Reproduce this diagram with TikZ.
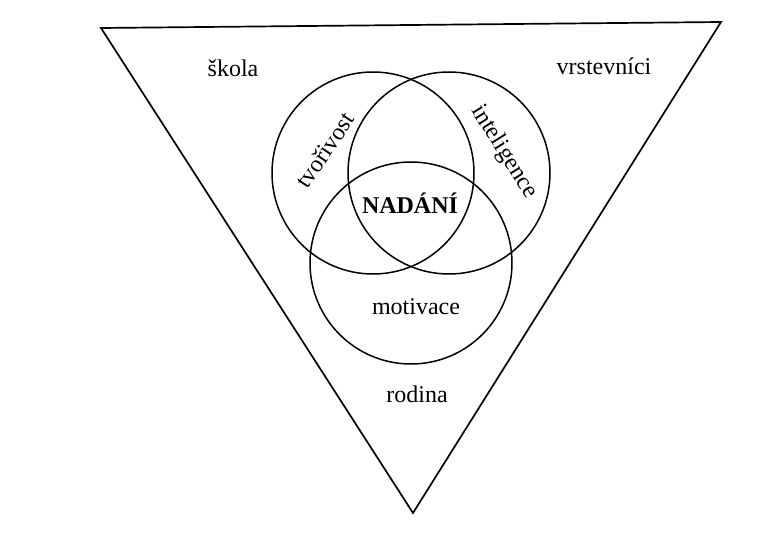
\documentclass[tikz,border=0pt]{standalone}
\usepackage{fontspec}
\setmainfont{Liberation Serif}
\usetikzlibrary{positioning}

\begin{document}
\begin{tikzpicture}[
  x=1pt,y=-1pt,
  ring/.style={draw,circle,minimum size=202pt,inner sep=0pt,line width=1.5pt},
  word/.style={font=\fontsize{24}{28}\selectfont,inner sep=0pt},
  edge/.style={line width=1.7pt,line join=miter}
]
  \useasboundingbox (0,0) rectangle (769,534);

  % triangle
  \coordinate (tl) at (101,28);
  \coordinate (tr) at (721,22);
  \coordinate (bot) at (413,513);
  \draw[edge] (tl) -- (tr) -- (bot) -- cycle;

  % the three circles
  \node[ring] (tvor) at (373,173) {};
  \node[ring] (intel) at (449,173) {};
  \node[ring] (motiv) at (411,263) {};

  % labels
  \node[word] (skola) at (233,68) {škola};
  \node[word] (vrst) at (604,66) {vrstevníci};
  \node[word,rotate=56] (tvorl) at (325,150) {tvořivost};
  \node[word,rotate=-58] (intell) at (504,152) {inteligence};
  \node[word,font=\fontsize{24}{28}\selectfont\bfseries] (nadani) at (410,203) {NADÁNÍ};
  \node[word] (motivl) at (416,307) {motivace};
  \node[word] (rodina) at (417,394) {rodina};
\end{tikzpicture}
\end{document}
